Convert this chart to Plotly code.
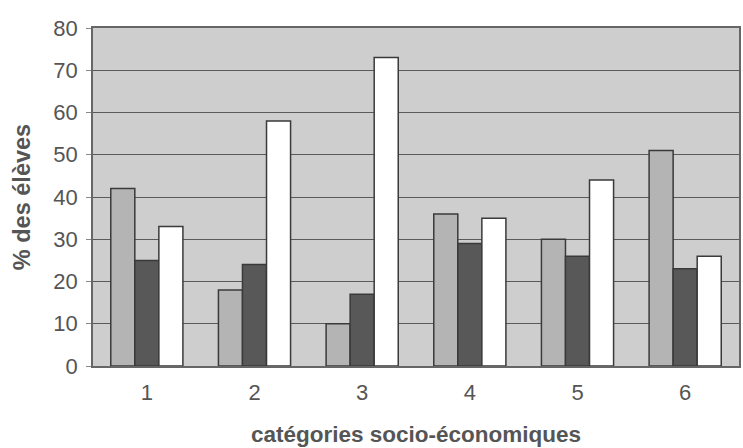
import plotly.graph_objects as go

categories = ["1", "2", "3", "4", "5", "6"]
serie_a = [42, 18, 10, 36, 30, 51]
serie_b = [25, 24, 17, 29, 26, 23]
serie_c = [33, 58, 73, 35, 44, 26]
y_ticks = [0, 10, 20, 30, 40, 50, 60, 70, 80]

fig = go.Figure()
for vals, col in [(serie_a, "#b4b4b4"), (serie_b, "#585858"), (serie_c, "#ffffff")]:
    fig.add_trace(go.Bar(x=categories, y=vals, marker=dict(color=col, line=dict(color="#3a3a3a", width=1.5)),
                         showlegend=False))

fig.update_layout(
    width=743, height=448,
    margin=dict(l=93, r=2, t=28, b=82),
    paper_bgcolor="white", plot_bgcolor="#cecece",
    barmode="group", bargap=0.33, bargroupgap=0,
    font=dict(family="Liberation Sans, Arial, sans-serif", size=20, color="#555555"),
)
fig.update_xaxes(
    showline=True, linecolor="#666666", linewidth=1.5, mirror=True,
    ticks="", tickfont=dict(size=22, color="#555555"), ticklabelstandoff=6,
    title=dict(text="<b>catégories socio-économiques</b>", font=dict(size=22.5, color="#555555"), standoff=22),
)
fig.update_yaxes(
    range=[0, 80], tickvals=y_ticks, showgrid=True, gridcolor="#5a5a5a", gridwidth=1,
    showline=True, linecolor="#666666", linewidth=1.5, mirror=True,
    ticks="outside", ticklen=5, tickcolor="#888888",
    tickfont=dict(size=22, color="#555555"), ticklabelstandoff=4,
    title=dict(text="<b>% des élèves</b>", font=dict(size=23.5, color="#555555"), standoff=16),
    zeroline=False,
)
fig.write_html("out.html", config={"displayModeBar": False},
               post_script="document.body.style.margin='0';")
